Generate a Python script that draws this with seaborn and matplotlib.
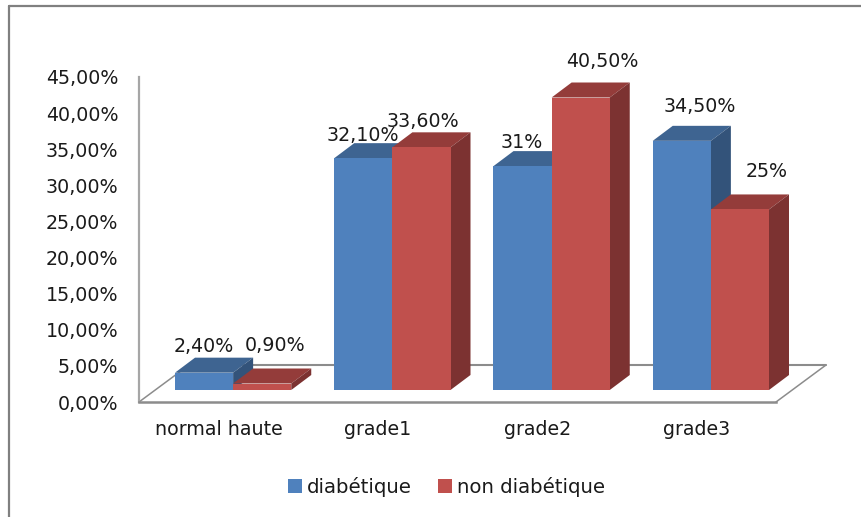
import matplotlib
matplotlib.use("Agg")
import matplotlib.pyplot as plt
import pandas as pd
import seaborn as sns
from matplotlib.lines import Line2D
from matplotlib.patches import Polygon

# Data
categories = ["normal haute", "grade1", "grade2", "grade3"]
diabetique = [2.4, 32.1, 31.0, 34.5]
non_diabetique = [0.9, 33.6, 40.5, 25.0]
diabetique_labels = ["2,40%", "32,10%", "31%", "34,50%"]
non_diabetique_labels = ["0,90%", "33,60%", "40,50%", "25%"]
y_ticks = [0, 5, 10, 15, 20, 25, 30, 35, 40, 45]
y_tick_labels = ["0,00%", "5,00%", "10,00%", "15,00%", "20,00%",
                 "25,00%", "30,00%", "35,00%", "40,00%", "45,00%"]

# Layout, in pixels of the 862x517 picture
W, H = 862, 517
WALL_L, WALL_R, WALL_B, WALL_T = 139, 776, 402, 77
SHIFT_X, SHIFT_Y = 14.5, 12
DEPTH_X, DEPTH_Y = 20, 15
FLOOR_X, FLOOR_Y = 50, 37
TEXT = "#1a1a1a"
GREY = "#8c8c8c"
FONT = 13.7

# label offsets from the front top centre of each bar (moved by hand in the original)
diabetique_offsets = [(0, 26), (0, 23), (-1, 24), (18, 34)]
non_diabetique_offsets = [(13, 38), (1, 26), (22, 36), (27, 38)]

sns.set_theme(style="white")
plt.rcParams["font.family"] = ["DejaVu Sans"]

df = pd.DataFrame({
    "categorie": categories * 2,
    "valeur": diabetique + non_diabetique,
    "groupe": ["diabétique"] * 4 + ["non diabétique"] * 4,
})

fig = plt.figure(figsize=(W / 100, H / 100), dpi=100)


def px_axes(left, right, bottom, top):
    return fig.add_axes([left / W, 1 - bottom / H, (right - left) / W, (bottom - top) / H])


# Wall axes carries the ticks and the floor
wall = px_axes(WALL_L, WALL_R, WALL_B, WALL_T)
wall.set_xlim(-0.5, 3.5)
wall.set_ylim(0, 45)
wall.set_xticks(range(4))
wall.set_xticklabels(categories, fontsize=FONT, color=TEXT)
wall.set_yticks(y_ticks)
wall.set_yticklabels(y_tick_labels, fontsize=FONT, color=TEXT)
wall.tick_params(axis="x", length=0, pad=13)
wall.tick_params(axis="y", length=0, pad=15)
wall.patch.set_alpha(0)
sns.despine(ax=wall)
wall.spines["left"].set_color("#a6a6a6")
wall.spines["left"].set_linewidth(1.6)
wall.spines["bottom"].set_color(GREY)
wall.spines["bottom"].set_linewidth(1.8)

fx = FLOOR_X / (WALL_R - WALL_L)
fy = FLOOR_Y / (WALL_B - WALL_T)
floor_style = dict(transform=wall.transAxes, color=GREY, clip_on=False)
wall.plot([0, fx], [0, fy], lw=1.1, **floor_style)
wall.plot([1, 1 + fx], [0, fy], lw=1.1, **floor_style)
wall.plot([fx, 1 + fx], [fy, fy], lw=1.5, **floor_style)

# Bar axes is the wall shifted towards the back of the floor
ax = px_axes(WALL_L + SHIFT_X, WALL_R + SHIFT_X, WALL_B - SHIFT_Y, WALL_T - SHIFT_Y)
ax.patch.set_alpha(0)
sns.barplot(data=df, x="categorie", y="valeur", hue="groupe", order=categories,
            palette=["#4F81BD", "#C0504D"], saturation=1, width=0.73, gap=0,
            linewidth=0, ax=ax)
ax.set_xlim(-0.5, 3.5)
ax.set_ylim(0, 45)
ax.set_xlabel("")
ax.set_ylabel("")
ax.set_xticks([])
ax.set_yticks([])
sns.despine(ax=ax, left=True, bottom=True)

handles, labels = ax.get_legend_handles_labels()
ax.get_legend().remove()

# Fake 3D: top and side faces come from the seaborn bars
dx = DEPTH_X * 4 / (WALL_R - WALL_L)
dy = DEPTH_Y * 45 / (WALL_B - WALL_T)
faces = [("#3E6491", "#33537A"), ("#943C3A", "#7C3231")]
bars = [list(c.patches) for c in ax.containers]
texts = [diabetique_labels, non_diabetique_labels]
offsets = [diabetique_offsets, non_diabetique_offsets]

for i in range(len(categories)):
    for s in range(2):
        bar = bars[s][i]
        x0, x1, h = bar.get_x(), bar.get_x() + bar.get_width(), bar.get_height()
        z = 2 + i + s * 0.1
        ax.add_patch(Polygon([(x0, h), (x1, h), (x1 + dx, h + dy), (x0 + dx, h + dy)],
                             facecolor=faces[s][0], lw=0, clip_on=False, zorder=z))
        ax.add_patch(Polygon([(x1, 0), (x1 + dx, dy), (x1 + dx, h + dy), (x1, h)],
                             facecolor=faces[s][1], lw=0, clip_on=False, zorder=z))
        bar.set_zorder(z + 0.05)
        ax.annotate(texts[s][i], (bar.get_x() + bar.get_width() / 2, h),
                    xytext=offsets[s][i], textcoords="offset pixels",
                    ha="center", va="center", fontsize=FONT, color=TEXT, zorder=20,
                    annotation_clip=False)

fig.legend(handles, labels, loc="center", bbox_to_anchor=(446.5 / W, 1 - 487 / H), ncol=2,
           frameon=False, fontsize=14.2, handlelength=0.68, handleheight=0.68,
           handletextpad=0.25, columnspacing=1.35, labelcolor=TEXT)

# Chart border, only top and left are inside the crop
fig.add_artist(Line2D([9 / W, 1], [1 - 6 / H, 1 - 6 / H], color="#808080", lw=1.6))
fig.add_artist(Line2D([9 / W, 9 / W], [1 - 6 / H, 0], color="#808080", lw=1.6))

fig.savefig("out.png", dpi=100)
